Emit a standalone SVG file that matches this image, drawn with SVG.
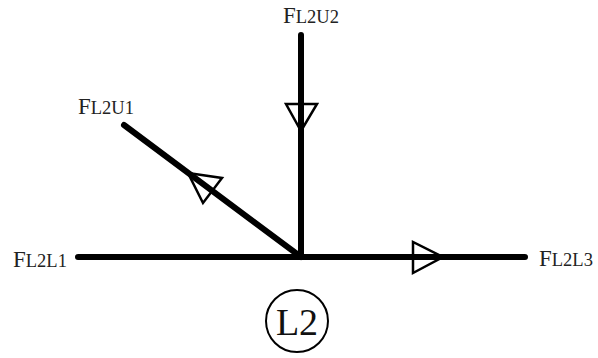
<svg xmlns="http://www.w3.org/2000/svg" width="598" height="358" viewBox="0 0 598 358">
<style>
.ln{stroke:#000;stroke-width:6;stroke-linecap:round;fill:none}
.ar{stroke:#000;stroke-width:2.5;fill:none;stroke-linejoin:miter}
.lb{font-family:"Liberation Serif","DejaVu Serif",serif;font-size:23px;fill:#222}
.sb{font-size:18.5px}
</style>
<rect width="598" height="358" fill="#fff"/>
<g id="connectors">
<line class="ln" x1="78" y1="257" x2="525" y2="257"/>
<line class="ln" x1="301" y1="35" x2="301" y2="257"/>
<line class="ln" x1="124" y1="125" x2="301" y2="257"/>
<polygon class="ar" points="286,104 317,104 301,131"/>
<polygon class="ar" points="413,242 413,273 443,257"/>
<polygon class="ar" points="188,173 222,178 203,203"/>
</g>
<g id="FL2U2"><text class="lb" x="283" y="23">F<tspan class="sb">L2U2</tspan></text></g>
<g id="FL2U1"><text class="lb" x="78" y="114">F<tspan class="sb">L2U1</tspan></text></g>
<g id="FL2L1"><text class="lb" x="13" y="267">F<tspan class="sb">L2L1</tspan></text></g>
<g id="FL2L3"><text class="lb" x="539" y="266">F<tspan class="sb">L2L3</tspan></text></g>
<g id="L2">
<circle cx="297" cy="321" r="31" fill="none" stroke="#000" stroke-width="2"/>
<text x="297" y="335" text-anchor="middle" font-family="Liberation Serif,serif" font-size="38" fill="#111">L2</text>
</g>
</svg>
